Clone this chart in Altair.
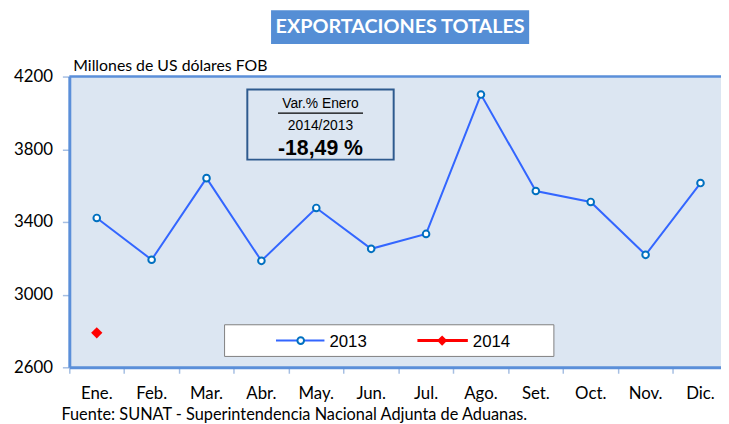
import altair as alt
import pandas as pd

months = ["Ene.", "Feb.", "Mar.", "Abr.", "May.", "Jun.", "Jul.", "Ago.", "Set.", "Oct.", "Nov.", "Dic."]
exp_2013 = [3422, 3192, 3641, 3186, 3477, 3252, 3334, 4101, 3570, 3510, 3219, 3614]
months_2014 = ["Ene."]
exp_2014 = [2790]
y_ticks = [2600, 3000, 3400, 3800, 4200]

df13 = pd.DataFrame({"mes": months, "valor": exp_2013})
df14 = pd.DataFrame({"mes": months_2014, "valor": exp_2014})
one = pd.DataFrame({"k": [0]})

W, H = 659, 294
BLUE_LINE = "#3366FF"
MARK_STROKE = "#0070C0"
BORDER = "#5B8FD9"
TICK = "#A6BFE3"

xscale = alt.Scale(type="band", domain=months, range=[0, 666], paddingInner=0, paddingOuter=0)
yscale = alt.Scale(domain=[2600, 4200], nice=False, zero=False)

xaxis = alt.Axis(title=None, labelFont="Lato", labelFontSize=17, labelColor="black",
                 labelPadding=13, tickSize=6, tickColor=TICK, tickWidth=1.5,
                 domainColor=BORDER, domainWidth=3, bandPosition=0, labelAngle=0)
yaxis = alt.Axis(title=None, values=y_ticks, format="d", labelFont="Lato", labelFontSize=17,
                 labelColor="black", labelPadding=10, tickSize=7, tickColor=TICK,
                 tickWidth=1.5, domainColor=BORDER, domainWidth=3, grid=False)

X = alt.X("mes:N", scale=xscale, sort=months, axis=xaxis)
Y = alt.Y("valor:Q", scale=yscale, axis=yaxis)

line13 = alt.Chart(df13).mark_line(color=BLUE_LINE, strokeWidth=2).encode(x=X, y=Y)
pts13 = alt.Chart(df13).mark_point(shape="circle", filled=True, fill="white", stroke=MARK_STROKE,
                                   strokeWidth=2, size=45, opacity=1).encode(x=X, y=Y)
pts14 = alt.Chart(df14).mark_point(shape="diamond", filled=True, color="#FF0000",
                                   size=130, opacity=1).encode(x=X, y=Y)

top_border = alt.Chart(one).mark_rule(color=BORDER, strokeWidth=2.5).encode(
    x=alt.value(0), x2=alt.value(W), y=alt.value(0))

title_box = alt.Chart(one).mark_rect(fill="#558ED5").encode(
    x=alt.value(204), x2=alt.value(465), y=alt.value(-67), y2=alt.value(-33))
title_txt = alt.Chart(one).mark_text(font="Lato", fontSize=20, fontWeight="bold", color="white",
                                     align="center", baseline="middle").encode(
    x=alt.value(334.5), y=alt.value(-50), text=alt.value("EXPORTACIONES TOTALES"))

unit_txt = alt.Chart(one).mark_text(font="Lato", fontSize=16, color="black",
                                    align="left", baseline="middle").encode(
    x=alt.value(4), y=alt.value(-11), text=alt.value("Millones de US dólares FOB"))

src_txt = alt.Chart(one).mark_text(font="Lato", fontSize=16.5, color="black",
                                   align="left", baseline="middle").encode(
    x=alt.value(-8), y=alt.value(342),
    text=alt.value("Fuente: SUNAT - Superintendencia Nacional Adjunta de Aduanas."))

ann_box = alt.Chart(one).mark_rect(filled=False, stroke="#2E5A8E", strokeWidth=2).encode(
    x=alt.value(180), x2=alt.value(328), y=alt.value(13), y2=alt.value(84))
ann1 = alt.Chart(one).mark_text(font="Liberation Sans", fontSize=14, color="black",
                                align="center", baseline="middle").encode(
    x=alt.value(254), y=alt.value(28), text=alt.value("Var.% Enero"))
ann_ul = alt.Chart(one).mark_rule(color="black", strokeWidth=1.2).encode(
    x=alt.value(211), x2=alt.value(297), y=alt.value(37))
ann2 = alt.Chart(one).mark_text(font="Liberation Sans", fontSize=14, color="black",
                                align="center", baseline="middle").encode(
    x=alt.value(254), y=alt.value(50), text=alt.value("2014/2013"))
ann3 = alt.Chart(one).mark_text(font="Liberation Sans", fontSize=21.5, fontWeight="bold",
                                color="black", align="center", baseline="middle").encode(
    x=alt.value(254), y=alt.value(73), text=alt.value("-18,49 %"))

leg_box = alt.Chart(one).mark_rect(fill="white", stroke="#7F7F7F", strokeWidth=1).encode(
    x=alt.value(157), x2=alt.value(490), y=alt.value(251), y2=alt.value(283))
leg_l13 = alt.Chart(one).mark_rule(color=BLUE_LINE, strokeWidth=2).encode(
    x=alt.value(209), x2=alt.value(258), y=alt.value(267))
leg_p13 = alt.Chart(one).mark_point(shape="circle", filled=True, fill="white", stroke=MARK_STROKE,
                                    strokeWidth=2, size=45, opacity=1).encode(
    x=alt.value(234), y=alt.value(267))
leg_t13 = alt.Chart(one).mark_text(font="Liberation Sans", fontSize=17, color="black",
                                   align="left", baseline="middle").encode(
    x=alt.value(263), y=alt.value(268), text=alt.value("2013"))
leg_l14 = alt.Chart(one).mark_rule(color="#FF0000", strokeWidth=3).encode(
    x=alt.value(352), x2=alt.value(403), y=alt.value(267))
leg_p14 = alt.Chart(one).mark_point(shape="diamond", filled=True, color="#FF0000",
                                    size=110, opacity=1).encode(
    x=alt.value(377), y=alt.value(267))
leg_t14 = alt.Chart(one).mark_text(font="Liberation Sans", fontSize=17, color="black",
                                   align="left", baseline="middle").encode(
    x=alt.value(408), y=alt.value(268), text=alt.value("2014"))

chart = alt.layer(
    line13, pts13, pts14, top_border,
    title_box, title_txt, unit_txt, src_txt,
    ann_box, ann1, ann_ul, ann2, ann3,
    leg_box, leg_l13, leg_p13, leg_t13, leg_l14, leg_p14, leg_t14,
).properties(
    width=W, height=H,
    autosize=alt.AutoSizeParams(type="none"),
    padding={"left": 62, "top": 67, "right": 0, "bottom": 55},
    background="white",
).configure_view(stroke=None, fill="#DCE6F2")

chart.save("out.html", embed_options={"renderer": "svg", "actions": False})
